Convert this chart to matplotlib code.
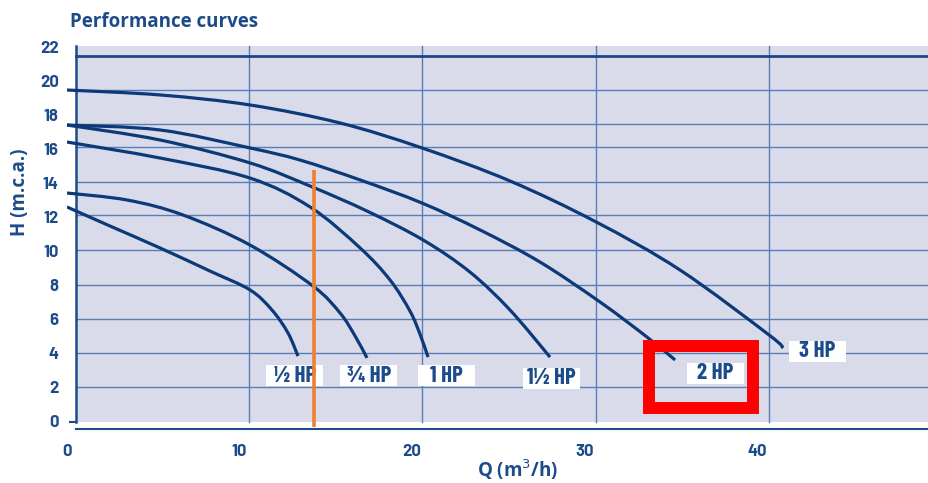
import matplotlib
matplotlib.use("Agg")
import os
import matplotlib.pyplot as plt
from matplotlib import font_manager as fm
from matplotlib.patches import Rectangle, PathPatch
from matplotlib.path import Path

# Data: Q (m3/h) vs H (m.c.a.)
q_half = [0, 2.49, 5.39, 8.29, 10.61, 11.88, 12.81, 13.39]
h_half = [12.59, 11.47, 10.18, 8.82, 7.71, 6.53, 5.18, 3.82]

q_three_q = [0, 3.48, 6.72, 10.61, 14.26, 15.83, 16.7, 17.39]
h_three_q = [13.41, 13.0, 12.12, 10.35, 7.94, 6.35, 5.0, 3.71]

q_one = [0, 5.39, 10.61, 14.09, 16.99, 18.73, 19.88, 20.46, 20.93]
h_one = [16.41, 15.47, 14.29, 12.59, 10.18, 8.29, 6.47, 5.12, 3.76]

q_one_half = [0, 5.39, 10.61, 14.09, 17.39, 20.64, 23.36, 25.68, 28.0]
h_one_half = [17.41, 16.53, 15.18, 13.82, 12.35, 10.65, 8.76, 6.53, 3.76]

q_two = [0, 5.39, 10.61, 13.51, 16.99, 20.58, 23.94, 27.42, 30.9, 33.62, 35.25]
h_two = [17.41, 17.12, 16.06, 15.35, 14.18, 12.82, 11.24, 9.35, 7.0, 4.94, 3.59]

q_three = [0, 5.39, 10.61, 15.83, 20.58, 25.68, 30.67, 35.54, 40.7, 41.51]
h_three = [19.47, 19.18, 18.59, 17.53, 16.06, 14.12, 11.71, 8.88, 5.06, 4.29]

curves = [(q_half, h_half), (q_three_q, h_three_q), (q_one, h_one),
          (q_one_half, h_one_half), (q_two, h_two), (q_three, h_three)]

labels = ["½ HP", "¾ HP", "1 HP", "1½ HP", "2 HP", "3 HP"]
label_q = [13.2, 17.5, 22.0, 28.1, 37.6, 43.5]
label_h = [2.65, 2.65, 2.65, 2.5, 2.8, 4.1]

# operating point line
q_marker = 14.3
h_marker_top = 14.75

y_ticks = [0, 2, 4, 6, 8, 10, 12, 14, 16, 18, 20, 22]
x_ticks = [0, 10, 20, 30, 40]
h_grid = [2, 4, 6, 8, 10.05, 12.1, 14.05, 16.1, 17.5, 19.5]
q_grid = [10.55, 20.6, 30.65, 40.7]

navy = "#0c3a78"
text_blue = "#1c4b8c"
grid_blue = "#5a7db6"
bg = "#d9dbea"

found_fonts = {os.path.basename(f.fname): f.fname for f in fm.fontManager.ttflist}


def condensed(size, files):
    for name in files:
        if name in found_fonts:
            return fm.FontProperties(fname=found_fonts[name], size=size)
    return fm.FontProperties(family=["DejaVu Sans"], weight="bold", size=size * 0.8)


def smooth_path(xs, ys):
    # Catmull-Rom through the read points, drawn as bezier segments
    pts = list(zip(xs, ys))
    verts = [pts[0]]
    codes = [Path.MOVETO]
    n = len(pts)
    for i in range(n - 1):
        p0 = pts[i - 1] if i > 0 else pts[i]
        p1 = pts[i]
        p2 = pts[i + 1]
        p3 = pts[i + 2] if i + 2 < n else pts[i + 1]
        c1 = (p1[0] + (p2[0] - p0[0]) / 6, p1[1] + (p2[1] - p0[1]) / 6)
        c2 = (p2[0] - (p3[0] - p1[0]) / 6, p2[1] - (p3[1] - p1[1]) / 6)
        verts += [c1, c2, p2]
        codes += [Path.CURVE4] * 3
    return Path(verts, codes)


label_font = condensed(16.5, ["BarlowCondensed-Bold.ttf", "DejaVuSansCondensed-Bold.ttf"])
tick_font = condensed(12, ["Barlow-Bold.ttf", "BarlowSemiCondensed-Bold.ttf",
                           "BarlowCondensed-Bold.ttf", "DejaVuSansCondensed-Bold.ttf"])

fig = plt.figure(figsize=(9.29, 4.83), dpi=100)
ax = fig.add_axes([67 / 929, (483 - 431.2) / 483, 862 / 929, 385.9 / 483])
ax.set_xlim(0, 49.97)
ax.set_ylim(-0.6, 22.1)
for s in ax.spines.values():
    s.set_visible(False)
ax.set_facecolor("white")

# plot background
ax.add_patch(Rectangle((0.52, -0.06), 50, 22.12, facecolor=bg, edgecolor="none", zorder=0))

for h in h_grid:
    ax.plot([0.52, 50], [h, h], color=grid_blue, lw=1.0, zorder=1)
for q in q_grid:
    ax.plot([q, q], [-0.06, 22.06], color=grid_blue, lw=1.0, zorder=1)
ax.plot([0.52, 50], [21.47, 21.47], color="#1a4788", lw=2.0, zorder=1)

# axis lines
ax.plot([0.52, 0.52], [-0.06, 22.06], color=text_blue, lw=1.8, zorder=3)
ax.plot([0.2, 0.52], [-0.06, -0.06], color=text_blue, lw=1.5, zorder=3)
ax.plot([0.52, 50], [-0.47, -0.47], color=text_blue, lw=1.5, zorder=3)

# pump curves
for q, h in curves:
    ax.add_patch(PathPatch(smooth_path(q, h), facecolor="none", edgecolor=navy,
                           lw=2.3, capstyle="butt", zorder=3))

# labels in white boxes
for txt, q, h in zip(labels, label_q, label_h):
    ax.add_patch(Rectangle((q - 1.65, h - 0.62), 3.3, 1.24, facecolor="white",
                           edgecolor="none", zorder=4))
    ax.text(q, h, txt, ha="center", va="center", fontproperties=label_font,
            color=text_blue, zorder=5)

# orange operating line
ax.plot([q_marker, q_marker], [-0.35, h_marker_top], color="#f08030", lw=2.6,
        solid_capstyle="butt", zorder=6)

# red highlight box around 2 HP
ax.add_patch(Rectangle((33.74, 0.76), 6.03, 3.65, fill=False, edgecolor="#ff0000",
                       lw=8.6, joinstyle="miter", zorder=7))

ax.set_xticks(x_ticks)
ax.set_yticks(y_ticks)
ax.tick_params(length=0, colors=text_blue)
ax.tick_params(axis="x", pad=9)
ax.tick_params(axis="y", pad=6)
for t in ax.get_xticklabels() + ax.get_yticklabels():
    t.set_fontproperties(tick_font)

fig.text(70 / 929, 1 - 22 / 483, "Performance curves", fontsize=13.5, fontweight="bold",
         family=["Open Sans", "DejaVu Sans"], color=text_blue, ha="left", va="center")
fig.text(20 / 929, 1 - 192 / 483, "H (m.c.a.)", fontsize=13.5, fontweight="bold",
         family=["Open Sans", "DejaVu Sans"], color=text_blue, rotation=90,
         ha="center", va="center")
fig.text(518 / 929, 1 - 470 / 483, "Q (m$^3$/h)", fontsize=13.5, fontweight="bold",
         family=["Open Sans", "DejaVu Sans"], color=text_blue, ha="center", va="center")

fig.savefig("out.png", dpi=100)
